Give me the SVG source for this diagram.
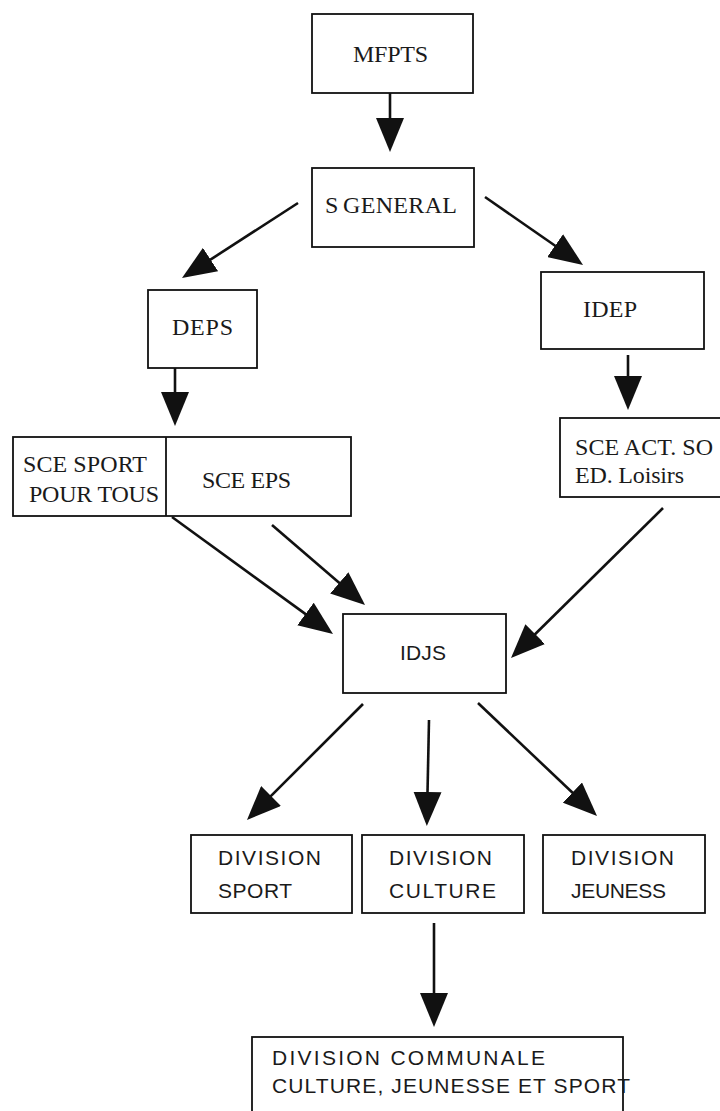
<svg xmlns="http://www.w3.org/2000/svg" width="720" height="1111" viewBox="0 0 720 1111">
<style>
.box{fill:#fff;stroke:#111;stroke-width:1.8}
.ln{fill:none;stroke:#111;stroke-width:2.6}
.s{font-family:"Liberation Serif","Times New Roman",serif;font-size:24px;fill:#1a1a1a}
.a{font-family:"Liberation Sans",Arial,sans-serif;font-size:21px;fill:#1a1a1a}
</style>
<defs>
<marker id="ah" viewBox="0 0 34 28" refX="1" refY="14" markerWidth="34" markerHeight="28" markerUnits="userSpaceOnUse" orient="auto">
<path d="M0,0 L34,14 L0,28 z" fill="#111"/>
</marker>
</defs>
<rect width="720" height="1111" fill="#fff"/>
<g id="connectors">
<line class="ln" x1="390" y1="93" x2="390" y2="119" marker-end="url(#ah)"/>
<line class="ln" x1="298" y1="203" x2="209.7" y2="260.1" marker-end="url(#ah)"/>
<line class="ln" x1="485" y1="197" x2="555.9" y2="246.2" marker-end="url(#ah)"/>
<line class="ln" x1="175" y1="368" x2="175" y2="393" marker-end="url(#ah)"/>
<line class="ln" x1="628" y1="355" x2="628" y2="377" marker-end="url(#ah)"/>
<line class="ln" x1="172" y1="517" x2="306.3" y2="614.6" marker-end="url(#ah)"/>
<line class="ln" x1="272" y1="525" x2="340" y2="583.5" marker-end="url(#ah)"/>
<line class="ln" x1="663" y1="508" x2="534.5" y2="634.8" marker-end="url(#ah)"/>
<line class="ln" x1="363" y1="704" x2="270.3" y2="796.7" marker-end="url(#ah)"/>
<line class="ln" x1="429" y1="720" x2="427.5" y2="793" marker-end="url(#ah)"/>
<line class="ln" x1="478" y1="703" x2="573.1" y2="793.3" marker-end="url(#ah)"/>
<line class="ln" x1="434" y1="923" x2="434" y2="994" marker-end="url(#ah)"/>
</g>
<g id="mfpts">
<rect class="box" x="312" y="14" width="161" height="79"/>
<text class="s" x="353" y="62" textLength="75" lengthAdjust="spacing">MFPTS</text>
</g>
<g id="sgeneral">
<rect class="box" x="312" y="168" width="162" height="79"/>
<text class="s" y="213"><tspan x="325">S</tspan><tspan x="343" textLength="114" lengthAdjust="spacing">GENERAL</tspan></text>
</g>
<g id="deps">
<rect class="box" x="148" y="290" width="109" height="78"/>
<text class="s" x="172" y="335" textLength="61" lengthAdjust="spacing">DEPS</text>
</g>
<g id="idep">
<rect class="box" x="541" y="272" width="163" height="77"/>
<text class="s" x="583" y="317" textLength="54" lengthAdjust="spacing">IDEP</text>
</g>
<g id="sce">
<rect class="box" x="13" y="437" width="338" height="79"/>
<line class="box" x1="166" y1="437" x2="166" y2="516"/>
<text class="s" x="23" y="472" textLength="124" lengthAdjust="spacing">SCE SPORT</text>
<text class="s" x="29" y="502" textLength="130" lengthAdjust="spacing">POUR TOUS</text>
<text class="s" x="202" y="488" textLength="89" lengthAdjust="spacing">SCE EPS</text>
</g>
<g id="sceact">
<rect class="box" x="560" y="418" width="175" height="79"/>
<text class="s" x="575" y="455" textLength="138" lengthAdjust="spacing">SCE ACT. SO</text>
<text class="s" x="575" y="483" textLength="109" lengthAdjust="spacing">ED. Loisirs</text>
</g>
<g id="idjs">
<rect class="box" x="343" y="614" width="163" height="79"/>
<text class="a" x="400" y="660" font-size="22" textLength="46" lengthAdjust="spacing">IDJS</text>
</g>
<g id="divsport">
<rect class="box" x="191" y="835" width="161" height="78"/>
<text class="a" x="218" y="865" textLength="103" lengthAdjust="spacing">DIVISION</text>
<text class="a" x="218" y="898" textLength="74" lengthAdjust="spacing">SPORT</text>
</g>
<g id="divculture">
<rect class="box" x="362" y="835" width="162" height="78"/>
<text class="a" x="389" y="865" textLength="103" lengthAdjust="spacing">DIVISION</text>
<text class="a" x="389" y="898" textLength="107" lengthAdjust="spacing">CULTURE</text>
</g>
<g id="divjeuness">
<rect class="box" x="543" y="835" width="162" height="78"/>
<text class="a" x="571" y="865" textLength="103" lengthAdjust="spacing">DIVISION</text>
<text class="a" x="571" y="898" textLength="95" lengthAdjust="spacing">JEUNESS</text>
</g>
<g id="divcommunale">
<rect class="box" x="252" y="1037" width="371" height="90"/>
<text class="a" x="272" y="1065" font-size="22" textLength="273" lengthAdjust="spacing">DIVISION COMMUNALE</text>
<text class="a" x="272" y="1093" font-size="22" textLength="358" lengthAdjust="spacing">CULTURE, JEUNESSE ET SPORT</text>
</g>
</svg>
